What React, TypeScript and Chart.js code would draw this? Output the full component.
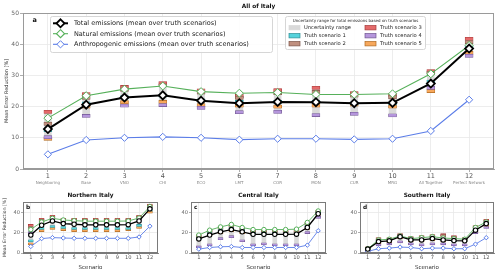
import React, { useEffect, useRef } from "react";
import { Chart, registerables } from "chart.js";

Chart.register(...registerables);
Chart.defaults.font.family = "'DejaVu Sans', sans-serif";

// ---------------- data ----------------
const X_VALUES = [1, 2, 3, 4, 5, 6, 7, 8, 9, 10, 11, 12];
const CATEGORY_NAMES = ["Neighboring", "Base", "VNO", "CHI", "ECO", "LMT", "COR", "MON", "CUR", "MRG", "All Together", "Perfect Network"];
const Y_TICKS_MAIN = [0, 10, 20, 30, 40, 50];
const Y_TICKS_SMALL = [0, 20, 40];

const SERIES_LABELS = [
  "Total emissions (mean over truth scenarios)",
  "Natural emissions (mean over truth scenarios)",
  "Anthropogenic emissions (mean over truth scenarios)",
];
const TRUTH_LABELS = ["Truth scenario 1", "Truth scenario 2", "Truth scenario 3", "Truth scenario 4", "Truth scenario 5"];
const UNCERTAINTY_LABEL = "Uncertainty range";
const UNCERTAINTY_TITLE = "Uncertainty range for total emissions based on truth scenarios";

// All of Italy
const allTotal = [12.8, 20.6, 22.9, 23.6, 21.9, 21.1, 21.5, 21.4, 21.1, 21.2, 27.4, 38.6];
const allNatural = [16.3, 23.5, 25.6, 26.6, 24.8, 24.3, 24.5, 23.9, 23.9, 24.1, 30.5, 39.6];
const allAnthro = [4.7, 9.3, 10.0, 10.3, 10.0, 9.4, 9.7, 9.7, 9.5, 9.7, 12.2, 22.2];
const allTruth1 = [12.5, 21.0, 23.0, 23.5, 22.0, 21.5, 21.5, 21.5, 21.0, 21.0, 28.0, 39.0];
const allTruth2 = [14.5, 22.8, 25.4, 26.8, 24.5, 22.8, 24.3, 24.7, 23.5, 23.0, 30.8, 40.7];
const allTruth3 = [18.3, 24.0, 26.3, 27.5, 25.2, 23.4, 25.3, 26.0, 24.3, 23.8, 31.4, 41.7];
const allTruth4 = [10.2, 17.0, 20.3, 20.5, 19.6, 18.2, 18.3, 17.3, 17.7, 17.2, 26.0, 36.3];
const allTruth5 = [9.7, 20.0, 21.4, 21.5, 20.5, 20.3, 20.0, 20.3, 20.6, 20.0, 25.0, 37.2];

// Northern Italy
const northTotal = [17.6, 27.2, 31.4, 28.8, 28.2, 27.6, 27.6, 27.6, 27.6, 27.8, 31.4, 43.3];
const northNatural = [23.0, 30.4, 34.0, 32.4, 31.7, 31.2, 31.2, 31.2, 31.2, 31.4, 34.3, 45.5];
const northAnthro = [6.4, 14.1, 15.1, 14.7, 14.4, 14.4, 14.4, 14.4, 14.4, 14.4, 15.7, 26.3];
const northTruth1 = [12, 24, 26, 25, 24, 24, 24, 24, 24, 24, 27, 42];
const northTruth2 = [25, 32, 35, 32, 32, 32, 32, 32, 32, 32, 35, 46];
const northTruth3 = [27, 33, 36, 33, 33, 33, 33, 33, 33, 33, 36, 47];
const northTruth4 = [20, 30, 33, 30, 30, 29, 29, 29, 29, 30, 33, 44];
const northTruth5 = [9, 22, 24, 23, 22, 22, 22, 22, 22, 23, 25, 40];

// Central Italy
const centralTotal = [13.8, 17.6, 20.8, 23.0, 20.8, 18.3, 18.3, 18.3, 18.3, 18.5, 25.0, 38.5];
const centralNatural = [17.6, 22.4, 25.6, 28.0, 25.0, 23.0, 23.0, 23.0, 23.0, 23.4, 30.0, 41.2];
const centralAnthro = [3.8, 5.4, 6.1, 6.4, 5.4, 5.4, 5.4, 5.4, 5.4, 5.4, 7.7, 21.8];
const centralTruth1 = [14, 19, 22, 24, 22, 19, 19, 19, 19, 19, 26, 39];
const centralTruth2 = [16, 21, 24, 26, 23, 21, 21, 21, 21, 21, 28, 40];
const centralTruth3 = [17, 22, 25, 27, 24, 22, 22, 22, 22, 22, 29, 41];
const centralTruth4 = [6, 8, 14, 16, 12, 8, 9, 8, 8, 8, 20, 35];
const centralTruth5 = [15, 18, 20, 22, 20, 20, 20, 20, 20, 20, 24, 38];

// Southern Italy
const southTotal = [3.8, 11.2, 11.9, 16.0, 12.8, 12.8, 14.1, 12.8, 12.2, 11.9, 22.4, 28.8];
const southNatural = [4.2, 12.8, 13.5, 16.7, 14.1, 15.0, 16.0, 14.7, 14.1, 13.5, 25.0, 30.4];
const southAnthro = [1.6, 4.2, 4.8, 5.8, 5.4, 4.2, 4.8, 4.8, 4.2, 4.2, 8.7, 15.0];
const southTruth1 = [4, 12, 12, 16, 13, 13, 15, 13, 12, 12, 23, 29];
const southTruth2 = [4.5, 13, 13, 17, 14, 15, 16, 17, 15, 13, 25, 31];
const southTruth3 = [5, 14, 14, 18, 15, 16, 17, 18, 16, 14, 26, 32];
const southTruth4 = [2, 8, 9, 11, 9, 8, 9, 9, 8, 8, 20, 25];
const southTruth5 = [3, 10, 11, 15, 12, 12, 13, 12, 12, 12, 21, 27];

// ---------------- styles ----------------
const LINE_COLORS = ["#000000", "#56b05a", "#5b7de8"];
const TRUTH_FILL = ["#56d3dc", "#c0907f", "#e46a6a", "#b596dc", "#f7a85c"];
const TRUTH_EDGE = ["#2e8f96", "#7d5548", "#a63a3a", "#6f5590", "#b06a20"];
const UNC_FILL = "#d9d9d9";

type Spec = {
  key: string;
  title: string;
  letter: string;
  big: boolean;
  total: number[];
  natural: number[];
  anthro: number[];
  truths: number[][];
  canvas: { left: number; top: number; width: number; height: number };
  yWidth: number;
  xHeight: number;
  padTop: number;
  padRight: number;
  yTicks: number[];
  yMax: number;
  xMin: number;
  xMax: number;
  yTitle: boolean;
  xTitle: boolean;
};

const PANELS: Spec[] = [
  {
    key: "a", title: "All of Italy", letter: "a", big: true,
    total: allTotal, natural: allNatural, anthro: allAnthro,
    truths: [allTruth1, allTruth2, allTruth3, allTruth4, allTruth5],
    canvas: { left: 0, top: 0, width: 500, height: 190 },
    yWidth: 23, xHeight: 21, padTop: 13, padRight: 6,
    yTicks: Y_TICKS_MAIN, yMax: 50, xMin: 0.35, xMax: 12.65, yTitle: true, xTitle: false,
  },
  {
    key: "b", title: "Northern Italy", letter: "b", big: false,
    total: northTotal, natural: northNatural, anthro: northAnthro,
    truths: [northTruth1, northTruth2, northTruth3, northTruth4, northTruth5],
    canvas: { left: 0, top: 188, width: 165, height: 87 },
    yWidth: 23, xHeight: 22, padTop: 14, padRight: 7,
    yTicks: Y_TICKS_SMALL, yMax: 50, xMin: 0.28, xMax: 12.75, yTitle: true, xTitle: true,
  },
  {
    key: "c", title: "Central Italy", letter: "c", big: false,
    total: centralTotal, natural: centralNatural, anthro: centralAnthro,
    truths: [centralTruth1, centralTruth2, centralTruth3, centralTruth4, centralTruth5],
    canvas: { left: 165, top: 188, width: 168, height: 87 },
    yWidth: 26, xHeight: 22, padTop: 14, padRight: 7,
    yTicks: Y_TICKS_SMALL, yMax: 50, xMin: 0.28, xMax: 12.72, yTitle: false, xTitle: true,
  },
  {
    key: "d", title: "Southern Italy", letter: "d", big: false,
    total: southTotal, natural: southNatural, anthro: southAnthro,
    truths: [southTruth1, southTruth2, southTruth3, southTruth4, southTruth5],
    canvas: { left: 333, top: 188, width: 167, height: 87 },
    yWidth: 27, xHeight: 22, padTop: 14, padRight: 6,
    yTicks: Y_TICKS_SMALL, yMax: 50, xMin: 0.28, xMax: 12.72, yTitle: false, xTitle: true,
  },
];

// ---------------- drawing helpers ----------------
function diamond(ctx: CanvasRenderingContext2D, cx: number, cy: number, r: number) {
  ctx.beginPath();
  ctx.moveTo(cx, cy - r);
  ctx.lineTo(cx + r, cy);
  ctx.lineTo(cx, cy + r);
  ctx.lineTo(cx - r, cy);
  ctx.closePath();
}

function roundBox(ctx: CanvasRenderingContext2D, x: number, y: number, w: number, h: number, r: number) {
  ctx.beginPath();
  ctx.moveTo(x + r, y);
  ctx.lineTo(x + w - r, y);
  ctx.quadraticCurveTo(x + w, y, x + w, y + r);
  ctx.lineTo(x + w, y + h - r);
  ctx.quadraticCurveTo(x + w, y + h, x + w - r, y + h);
  ctx.lineTo(x + r, y + h);
  ctx.quadraticCurveTo(x, y + h, x, y + h - r);
  ctx.lineTo(x, y + r);
  ctx.quadraticCurveTo(x, y, x + r, y);
  ctx.closePath();
}

function drawMainLegends(ctx: CanvasRenderingContext2D) {
  // legend 1
  roundBox(ctx, 50.5, 16.5, 222, 36, 2);
  ctx.fillStyle = "rgba(255,255,255,0.9)";
  ctx.fill();
  ctx.strokeStyle = "#d6d6d6";
  ctx.lineWidth = 1;
  ctx.stroke();
  const rows = [23.3, 33.7, 44.3];
  const lw = [2, 1.1, 1.1];
  const rr = [4, 4, 3.6];
  const bw = [1.8, 1.1, 1.0];
  rows.forEach((y, i) => {
    ctx.strokeStyle = LINE_COLORS[i];
    ctx.lineWidth = lw[i];
    ctx.beginPath();
    ctx.moveTo(53, y);
    ctx.lineTo(68, y);
    ctx.stroke();
    diamond(ctx, 60.5, y, rr[i]);
    ctx.fillStyle = "#fff";
    ctx.fill();
    ctx.lineWidth = bw[i];
    ctx.stroke();
    ctx.fillStyle = "#222";
    ctx.font = "6.5px 'DejaVu Sans'";
    ctx.textAlign = "left";
    ctx.textBaseline = "middle";
    ctx.fillText(SERIES_LABELS[i], 74, y + 0.3);
  });

  // legend 2
  roundBox(ctx, 285.5, 16.5, 140, 33, 2);
  ctx.fillStyle = "rgba(255,255,255,0.9)";
  ctx.fill();
  ctx.strokeStyle = "#d6d6d6";
  ctx.lineWidth = 1;
  ctx.stroke();
  ctx.fillStyle = "#222";
  ctx.font = "4px 'DejaVu Sans'";
  ctx.textAlign = "center";
  ctx.textBaseline = "middle";
  ctx.fillText(UNCERTAINTY_TITLE, 355.5, 20.5);
  const items = [
    { label: UNCERTAINTY_LABEL, fill: UNC_FILL, edge: UNC_FILL },
    { label: TRUTH_LABELS[0], fill: TRUTH_FILL[0], edge: TRUTH_EDGE[0] },
    { label: TRUTH_LABELS[1], fill: TRUTH_FILL[1], edge: TRUTH_EDGE[1] },
    { label: TRUTH_LABELS[2], fill: TRUTH_FILL[2], edge: TRUTH_EDGE[2] },
    { label: TRUTH_LABELS[3], fill: TRUTH_FILL[3], edge: TRUTH_EDGE[3] },
    { label: TRUTH_LABELS[4], fill: TRUTH_FILL[4], edge: TRUTH_EDGE[4] },
  ];
  const r2 = [27.7, 35.7, 43.7];
  const colX = [289, 365];
  items.forEach((it, i) => {
    const col = Math.floor(i / 3);
    const row = i % 3;
    const px = colX[col];
    const py = r2[row];
    ctx.fillStyle = it.fill;
    ctx.fillRect(px, py - 2.2, 11, 4.4);
    ctx.strokeStyle = it.edge;
    ctx.lineWidth = 0.7;
    ctx.strokeRect(px, py - 2.2, 11, 4.4);
    ctx.fillStyle = "#222";
    ctx.font = "5.2px 'DejaVu Sans'";
    ctx.textAlign = "left";
    ctx.textBaseline = "middle";
    ctx.fillText(it.label, px + 15, py + 0.2);
  });
}

function annotationPlugin(p: Spec) {
  return {
    id: "annot_" + p.key,
    afterDraw(chart: any) {
      const ctx: CanvasRenderingContext2D = chart.ctx;
      const a = chart.chartArea;
      ctx.save();
      // frame
      ctx.strokeStyle = p.big ? "#9a9a9a" : "#7a7a7a";
      ctx.lineWidth = 1;
      const L = Math.round(a.left) + 0.5;
      const T = Math.round(a.top) + 0.5;
      const R = Math.round(a.right) - 0.5;
      const B = Math.round(a.bottom) - 0.5;
      ctx.strokeRect(L, T, R - L, B - T);

      const cx = (a.left + a.right) / 2;
      // title
      ctx.fillStyle = "#111";
      ctx.textAlign = "center";
      ctx.textBaseline = "middle";
      ctx.font = "bold 5.8px 'DejaVu Sans'";
      ctx.fillText(p.title, cx, a.top - 6.5);

      // panel letter
      ctx.textAlign = "left";
      ctx.font = p.big ? "bold 6.5px 'DejaVu Sans'" : "bold 5.8px 'DejaVu Sans'";
      ctx.fillText(p.letter, a.left + (p.big ? 9.5 : 3), a.top + (p.big ? 7 : 5));

      // y title
      if (p.yTitle) {
        ctx.save();
        ctx.translate(p.big ? 7 : 5, (a.top + a.bottom) / 2);
        ctx.rotate(-Math.PI / 2);
        ctx.textAlign = "center";
        ctx.textBaseline = "middle";
        ctx.fillStyle = "#333";
        ctx.font = p.big ? "5px 'DejaVu Sans'" : "4.6px 'DejaVu Sans'";
        ctx.fillText("Mean Error Reduction [%]", 0, 0);
        ctx.restore();
      }
      // x title
      if (p.xTitle) {
        ctx.fillStyle = "#333";
        ctx.textAlign = "center";
        ctx.textBaseline = "middle";
        ctx.font = "5.5px 'DejaVu Sans'";
        ctx.fillText("Scenario", cx, a.bottom + 15);
      }
      // category sub labels
      if (p.big) {
        const xs = chart.scales.x;
        ctx.fillStyle = "#888";
        ctx.textAlign = "center";
        ctx.textBaseline = "middle";
        ctx.font = "4px 'DejaVu Sans'";
        X_VALUES.forEach((v, i) => {
          ctx.fillText(CATEGORY_NAMES[i], xs.getPixelForValue(v), a.bottom + 14);
        });
        drawMainLegends(ctx);
      }
      ctx.restore();
    },
  };
}

function makeConfig(p: Spec): any {
  const big = p.big;
  const pts = (arr: number[]) => X_VALUES.map((x, i) => ({ x, y: arr[i] }));
  const half = big ? 0.5 : 1.0;
  const lo = X_VALUES.map((_, i) => Math.min(...p.truths.map((t) => t[i])));
  const hi = X_VALUES.map((_, i) => Math.max(...p.truths.map((t) => t[i])));
  const lineSets = [p.total, p.natural, p.anthro].map((arr, k) => ({
    type: "line",
    label: SERIES_LABELS[k],
    data: pts(arr),
    borderColor: LINE_COLORS[k],
    borderWidth: k === 0 ? (big ? 2 : 1.3) : big ? 1.1 : 0.9,
    pointStyle: big ? "rectRot" : k === 2 ? "rectRot" : "circle",
    pointRadius: big ? (k === 2 ? 3.6 : 4) : 2.2,
    pointBorderWidth: k === 0 ? (big ? 1.8 : 1.1) : 1,
    pointBackgroundColor: "#ffffff",
    pointBorderColor: LINE_COLORS[k],
    tension: 0,
    fill: false,
    order: k,
  }));
  const truthSets = p.truths.map((t, k) => ({
    type: "bar",
    label: TRUTH_LABELS[k],
    data: X_VALUES.map((x, i) => ({ x, y: [t[i] - half, t[i] + half] })),
    backgroundColor: TRUTH_FILL[k],
    borderColor: TRUTH_EDGE[k],
    borderWidth: 0.6,
    borderSkipped: false,
    barThickness: big ? 8 : 5,
    grouped: false,
    order: 3,
  }));
  const uncSet = {
    type: "bar",
    label: UNCERTAINTY_LABEL,
    data: X_VALUES.map((x, i) => ({ x, y: [lo[i], hi[i]] })),
    backgroundColor: UNC_FILL,
    borderWidth: 0,
    barThickness: big ? 7 : 4,
    grouped: false,
    order: 4,
  };
  const tickFont = big ? 6.5 : 5.2;
  return {
    type: "bar",
    data: { datasets: [...lineSets, ...truthSets, uncSet] },
    options: {
      animation: false,
      responsive: false,
      maintainAspectRatio: false,
      events: [],
      layout: { padding: { left: 0, right: p.padRight, top: p.padTop, bottom: 0 } },
      plugins: { legend: { display: false }, tooltip: { enabled: false }, title: { display: false } },
      scales: {
        x: {
          type: "linear",
          min: p.xMin,
          max: p.xMax,
          offset: false,
          afterBuildTicks: (s: any) => {
            s.ticks = X_VALUES.map((v) => ({ value: v }));
          },
          afterFit: (s: any) => {
            s.height = p.xHeight;
          },
          ticks: {
            autoSkip: false,
            maxRotation: 0,
            minRotation: 0,
            padding: big ? 0 : 0,
            color: "#555",
            font: { size: tickFont },
            callback: (v: any) => String(v),
          },
          grid: { color: "#e8e8e8", lineWidth: 0.8, tickLength: big ? 3 : 2, tickColor: "#999", offset: false },
          border: { color: big ? "#9a9a9a" : "#7a7a7a", width: 1 },
        },
        y: {
          type: "linear",
          min: 0,
          max: p.yMax,
          afterBuildTicks: (s: any) => {
            s.ticks = p.yTicks.map((v) => ({ value: v }));
          },
          afterFit: (s: any) => {
            s.width = p.yWidth;
          },
          ticks: {
            padding: 1,
            color: "#666",
            font: { size: big ? 6 : 5.2 },
            callback: (v: any) => String(v),
          },
          grid: { color: "#e8e8e8", lineWidth: 0.8, tickLength: big ? 3 : 2, tickColor: "#999" },
          border: { color: big ? "#9a9a9a" : "#7a7a7a", width: 1 },
        },
      },
    },
    plugins: [annotationPlugin(p)],
  };
}

function Panel({ spec }: { spec: Spec }) {
  const ref = useRef<HTMLCanvasElement | null>(null);
  useEffect(() => {
    if (!ref.current) return;
    const chart = new Chart(ref.current, makeConfig(spec));
    return () => chart.destroy();
  }, [spec]);
  const c = spec.canvas;
  return (
    <canvas
      ref={ref}
      width={c.width}
      height={c.height}
      style={{ position: "absolute", left: c.left, top: c.top, width: c.width, height: c.height }}
    />
  );
}

export default function App() {
  return (
    <div style={{ position: "absolute", left: 0, top: 0, width: 500, height: 275, background: "#ffffff", overflow: "hidden" }}>
      {PANELS.map((p) => (
        <Panel key={p.key} spec={p} />
      ))}
    </div>
  );
}
